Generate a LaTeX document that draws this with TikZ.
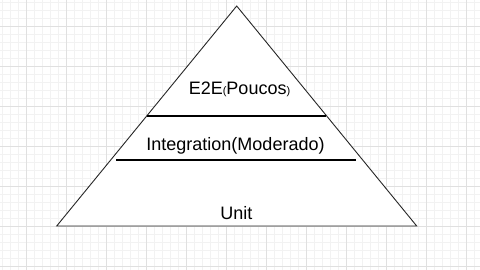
\documentclass[tikz,border=0pt]{standalone}
\usepackage{fontspec}
\setmainfont{Liberation Sans}
\begin{document}
\begin{tikzpicture}[x=1pt,y=-1pt,
  minorgrid/.style={draw=black!5,line width=0.6pt},
  majorgrid/.style={draw=black!12,line width=0.8pt},
  pyramid/.style={draw=black!85,line width=0.9pt,fill=white,line join=miter},
  divider/.style={draw=black,line width=2pt},
  label/.style={inner sep=0pt,anchor=base,font=\fontsize{18}{18}\selectfont}
]
% canvas
\fill[white] (0,0) rectangle (480,270);
\useasboundingbox (0,0) rectangle (480,270);
% background grid: fine lines every 8px, heavier every 40px
\foreach \i in {0,...,60} {
  \draw[minorgrid] ({2.67+8*\i},0) -- ({2.67+8*\i},270);
}
\foreach \j in {0,...,34} {
  \draw[minorgrid] (0,{2.67+8*\j}) -- (480,{2.67+8*\j});
}
\foreach \i in {0,...,11} {
  \draw[majorgrid] ({26.67+40*\i},0) -- ({26.67+40*\i},270);
}
\foreach \j in {0,...,6} {
  \draw[majorgrid] (0,{26.67+40*\j}) -- (480,{26.67+40*\j});
}
% pyramid outline
\coordinate (apex) at (236.7,6);
\coordinate (bl) at (56.7,226);
\coordinate (br) at (416.7,226);
\draw[pyramid] (apex) -- (br) -- (bl) -- cycle;
% tier dividers
\coordinate (d1l) at (146.7,116);
\coordinate (d1r) at (325.5,116);
\coordinate (d2l) at (116,160.3);
\coordinate (d2r) at (356,160.3);
\draw[divider] (d1l) -- (d1r);
\draw[divider] (d2l) -- (d2r);
% tier labels
\node[label] (e2e) at (239.5,95) {E2E{\fontsize{11}{11}\selectfont(}Poucos{\fontsize{11}{11}\selectfont)}};
\node[label] (integ) at (235.5,150) {Integration(Moderado)};
\node[label] (unit) at (236.3,219.5) {Unit};
\end{tikzpicture}
\end{document}
